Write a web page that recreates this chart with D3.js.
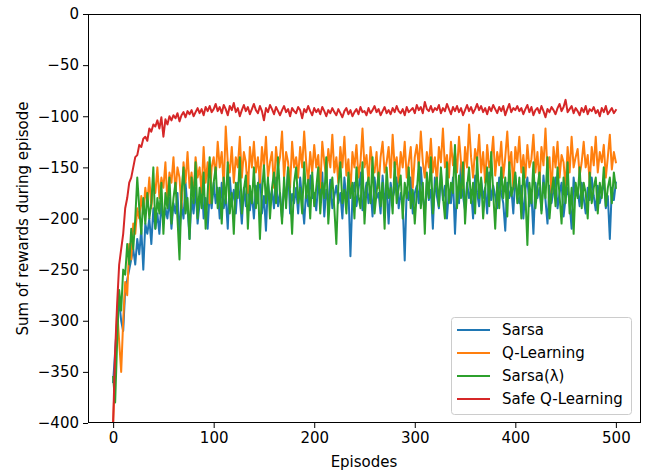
<!DOCTYPE html>
<html>
<head>
<meta charset="utf-8">
<script src="https://cdn.jsdelivr.net/npm/d3@7"></script>
<style>
  html, body { margin: 0; padding: 0; background: #fff; }
  svg { display: block; }
  text { font-family: "DejaVu Sans", sans-serif; fill: #000; }
</style>
</head>
<body>
<svg id="chart" width="645" height="470"></svg>
<script>
// ---- Data (episodes 0..500, every 2nd episode) ----
const episodeStep = 2;
const xTicks = [0, 100, 200, 300, 400, 500];
const yTicks = [0, -50, -100, -150, -200, -250, -300, -350, -400];
const seriesNames = ["Sarsa", "Q-Learning", "Sarsa(λ)", "Safe Q-Learning"];
const seriesColors = ["#1f77b4", "#ff7f0e", "#2ca02c", "#d62728"];

const sarsa = [
-360,-330,-300,-280,-300,-310,-270,-260,-250,-240,-230,-245,-220,-235,-210,-250,-205,-215,-200,-225,-190,-210,-195,-215,-185,-205,-190,-200,-180,-210,-185,
-195,-175,-215,-185,-200,-165,-190,-220,-180,-195,-170,-205,-185,-160,-200,-180,-210,-175,-190,-165,
-185,-170,-200,-165,-190,-178,-210,-160,-185,-172,
-195,-165,-180,-205,-170,-188,-155,-192,-175,-200,
-168,-185,-150,-195,-178,-212,-165,-183,-172,-190,
-160,-188,-175,-200,-168,-182,-150,-195,-176,-185,
-170,-195,-160,-182,-205,-172,-188,-158,-180,-175,
-192,-165,-180,-155,-198,-172,-185,-162,-190,-178,
-168,-185,-175,-200,-160,-182,-170,-237,-178,-165,
-188,-172,-155,-192,-178,-165,-185,-170,-198,-160,
-180,-175,-195,-158,-185,-170,-205,-165,-180,-172,
-160,-190,-175,-185,-241,-170,-182,-160,-195,-175,
-168,-185,-150,-178,-195,-165,-182,-172,-210,-160,
-178,-190,-155,-182,-168,-200,-172,-185,-160,-215,
-170,-185,-145,-178,-192,-165,-180,-172,-200,-158,
-175,-188,-162,-180,-170,-195,-155,-182,-168,-178,
-190,-160,-175,-185,-212,-165,-180,-170,-195,-158,
-178,-185,-168,-200,-172,-160,-188,-175,-215,-165,
-180,-170,-192,-158,-182,-205,-168,-185,-172,-160,
-190,-175,-165,-198,-180,-170,-185,-210,-160,-178,
-172,-188,-165,-180,-195,-170,-182,-160,-178,-192,
-168,-185,-175,-162,-190,-178,-220,-170,-182,-165
];

const qLearning = [
-400,-350,-290,-320,-350,-300,-262,-275,-225,-240,-205,-215,-190,-200,-178,-195,-170,-185,-160,-190,-165,-175,-150,-180,-160,-170,-145,-185,-155,-165,-140,
-175,-150,-160,-190,-145,-165,-135,-170,-155,-180,-140,-160,-150,-175,-130,-165,-145,-185,-150,-140,
-160,-125,-150,-135,-170,-110,-145,-155,-130,-165,
-140,-150,-120,-160,-135,-145,-175,-130,-150,-125,
-155,-140,-165,-130,-150,-120,-160,-145,-135,-170,
-130,-150,-140,-115,-160,-135,-145,-170,-125,-150,
-140,-160,-130,-150,-115,-145,-165,-135,-155,-128,
-150,-138,-170,-125,-145,-160,-132,-150,-118,-155,
-140,-165,-130,-150,-120,-158,-142,-175,-135,-150,
-128,-160,-145,-112,-150,-138,-165,-130,-148,-155,
-135,-170,-140,-125,-155,-145,-130,-160,-118,-150,
-140,-165,-135,-150,-125,-160,-145,-130,-170,-140,
-128,-150,-115,-145,-160,-135,-150,-122,-155,-140,
-165,-130,-145,-112,-150,-138,-160,-125,-148,-135,
-155,-120,-145,-170,-130,-150,-108,-140,-160,-132,
-145,-118,-155,-135,-165,-128,-150,-142,-120,-158,
-135,-148,-125,-160,-140,-115,-150,-135,-170,-130,
-145,-120,-155,-138,-160,-128,-150,-142,-118,-155,
-135,-165,-130,-148,-112,-155,-140,-175,-130,-150,
-125,-160,-138,-145,-170,-130,-155,-120,-150,-140,
-132,-158,-145,-125,-150,-138,-165,-130,-148,-120,
-155,-135,-145,-128,-160,-140,-118,-152,-135,-145
];

const sarsaLambda = [
-355,-380,-320,-270,-290,-250,-255,-225,-245,-210,-230,-200,-160,-190,-215,-180,-205,-175,-200,-185,-150,-210,-180,-195,-165,-215,-175,-190,-160,-205,-180,
-165,-200,-240,-175,-150,-195,-180,-220,-160,-185,-145,-200,-170,-190,-155,-210,-175,-140,-185,-165,
-150,-190,-170,-205,-160,-185,-145,-195,-175,-215,
-165,-180,-140,-195,-172,-158,-210,-168,-185,-150,
-190,-165,-220,-175,-148,-185,-160,-200,-170,-155,
-185,-140,-178,-205,-160,-190,-150,-175,-215,-165,
-150,-185,-170,-195,-145,-180,-162,-200,-155,-188,
-170,-150,-195,-165,-180,-140,-205,-175,-160,-190,
-225,-168,-145,-185,-172,-195,-155,-180,-165,-200,
-150,-178,-190,-145,-205,-170,-160,-185,-140,-195,
-175,-155,-188,-165,-210,-150,-180,-170,-195,-145,
-185,-170,-158,-200,-165,-180,-150,-190,-172,-205,
-175,-145,-190,-165,-215,-155,-180,-140,-195,-170,
-160,-188,-150,-178,-200,-145,-185,-165,-175,-128,
-190,-158,-180,-145,-205,-170,-150,-185,-165,-195,
-140,-180,-160,-200,-172,-150,-188,-135,-175,-210,
-165,-190,-150,-180,-160,-198,-145,-178,-170,-155,
-185,-160,-200,-150,-175,-226,-165,-185,-145,-190,
-170,-155,-195,-165,-180,-140,-200,-175,-160,-188,
-150,-178,-205,-160,-185,-145,-195,-170,-215,-165,
-180,-150,-190,-165,-175,-200,-155,-185,-170,-160,
-195,-165,-180,-150,-188,-170,-160,-185,-155,-170
];

const safeQLearning = [
-400,-330,-283,-245,-230,-215,-190,-180,-165,-160,-150,-140,-138,-128,-130,-122,-120,-124,-112,-115,-108,-110,-104,-112,-101,-120,-103,-108,-100,-104,-99,
-102,-97,-105,-99,-96,-101,-95,-98,-94,-100,-96,-92,-97,-93,-99,-91,-95,-90,-96,-93,
-88,-95,-91,-97,-89,-93,-99,-90,-94,-87,
-96,-92,-100,-94,-89,-95,-91,-98,-93,-88,
-94,-97,-90,-95,-104,-92,-96,-89,-93,-98,
-91,-95,-99,-94,-90,-96,-93,-100,-92,-95,
-97,-91,-94,-102,-93,-96,-90,-95,-99,-92,
-96,-93,-98,-91,-95,-100,-94,-97,-92,-96,
-99,-93,-97,-101,-95,-92,-98,-94,-100,-96,
-93,-98,-91,-96,-95,-99,-92,-97,-94,-90,
-96,-93,-99,-95,-91,-97,-94,-98,-92,-96,
-90,-95,-97,-93,-99,-91,-96,-94,-92,-97,
-89,-94,-91,-97,-86,-93,-95,-90,-96,-92,
-94,-89,-97,-92,-95,-88,-93,-98,-91,-95,
-90,-96,-92,-99,-94,-89,-95,-91,-97,-93,
-88,-94,-90,-96,-92,-98,-91,-95,-89,-93,
-97,-91,-95,-90,-99,-93,-88,-96,-92,-94,
-90,-95,-92,-98,-93,-89,-96,-91,-99,-94,
-92,-97,-90,-95,-101,-93,-96,-91,-94,-98,
-92,-88,-95,-91,-84,-96,-93,-90,-97,-92,
-95,-99,-92,-96,-90,-98,-93,-95,-91,-97,
-94,-100,-92,-96,-90,-98,-95,-92,-97,-94
];

const allSeries = [sarsa, qLearning, sarsaLambda, safeQLearning];

// ---- Layout ----
const svg = d3.select("#chart");
const mLeft = 88, mRight = 641, mTop = 14, mBottom = 423;
const fontPx = 15;

const x = d3.scaleLinear().domain([-25, 525]).range([mLeft, mRight]);
const y = d3.scaleLinear().domain([-400, 0]).range([mBottom, mTop]);

svg.append("defs").append("clipPath").attr("id", "clip")
  .append("rect").attr("x", mLeft).attr("y", mTop)
  .attr("width", mRight - mLeft).attr("height", mBottom - mTop);

const line = d3.line()
  .x((d, i) => x(i * episodeStep))
  .y(d => y(d));

const plot = svg.append("g").attr("clip-path", "url(#clip)");
allSeries.forEach((s, k) => {
  plot.append("path")
    .datum(s)
    .attr("fill", "none")
    .attr("stroke", seriesColors[k])
    .attr("stroke-width", 2)
    .attr("stroke-linejoin", "round")
    .attr("stroke-linecap", "square")
    .attr("d", line);
});

// ---- Axes ----
const fmt = d => d < 0 ? "\u2212" + Math.abs(d) : String(d);
const xAxis = svg.append("g").attr("transform", `translate(0,${mBottom})`)
  .call(d3.axisBottom(x).tickValues(xTicks).tickFormat(fmt).tickSize(5).tickSizeOuter(0).tickPadding(4));
const yAxis = svg.append("g").attr("transform", `translate(${mLeft},0)`)
  .call(d3.axisLeft(y).tickValues(yTicks).tickFormat(fmt).tickSize(5).tickSizeOuter(0).tickPadding(4));
[xAxis, yAxis].forEach(a => {
  a.select(".domain").remove();
  a.selectAll("line").attr("stroke", "#000").attr("stroke-width", 1);
  a.selectAll("text").attr("font-size", fontPx).attr("font-family", "DejaVu Sans").attr("fill", "#000");
});

// frame
svg.append("rect").attr("x", mLeft + 0.5).attr("y", mTop + 0.5)
  .attr("width", mRight - mLeft - 1).attr("height", mBottom - mTop - 1)
  .attr("fill", "none").attr("stroke", "#000").attr("stroke-width", 1);

// labels
svg.append("text").attr("x", 364).attr("y", 467)
  .attr("text-anchor", "middle").attr("font-size", fontPx).text("Episodes");
svg.append("text")
  .attr("transform", `translate(28,${(mTop + mBottom) / 2}) rotate(-90)`)
  .attr("text-anchor", "middle").attr("font-size", fontPx)
  .text("Sum of rewards during episode");

// ---- Legend ----
const lg = svg.append("g");
lg.append("rect").attr("x", 451.5).attr("y", 317.5).attr("width", 180).attr("height", 97)
  .attr("rx", 3).attr("fill", "#fff").attr("fill-opacity", 0.8)
  .attr("stroke", "#cccccc").attr("stroke-width", 1);
seriesNames.forEach((name, k) => {
  const yy = 330 + k * 23;
  lg.append("line").attr("x1", 457).attr("x2", 490).attr("y1", yy).attr("y2", yy)
    .attr("stroke", seriesColors[k]).attr("stroke-width", 2);
  lg.append("text").attr("x", 502).attr("y", yy).attr("dy", "0.35em")
    .attr("font-size", fontPx).text(name);
});
</script>
</body>
</html>
